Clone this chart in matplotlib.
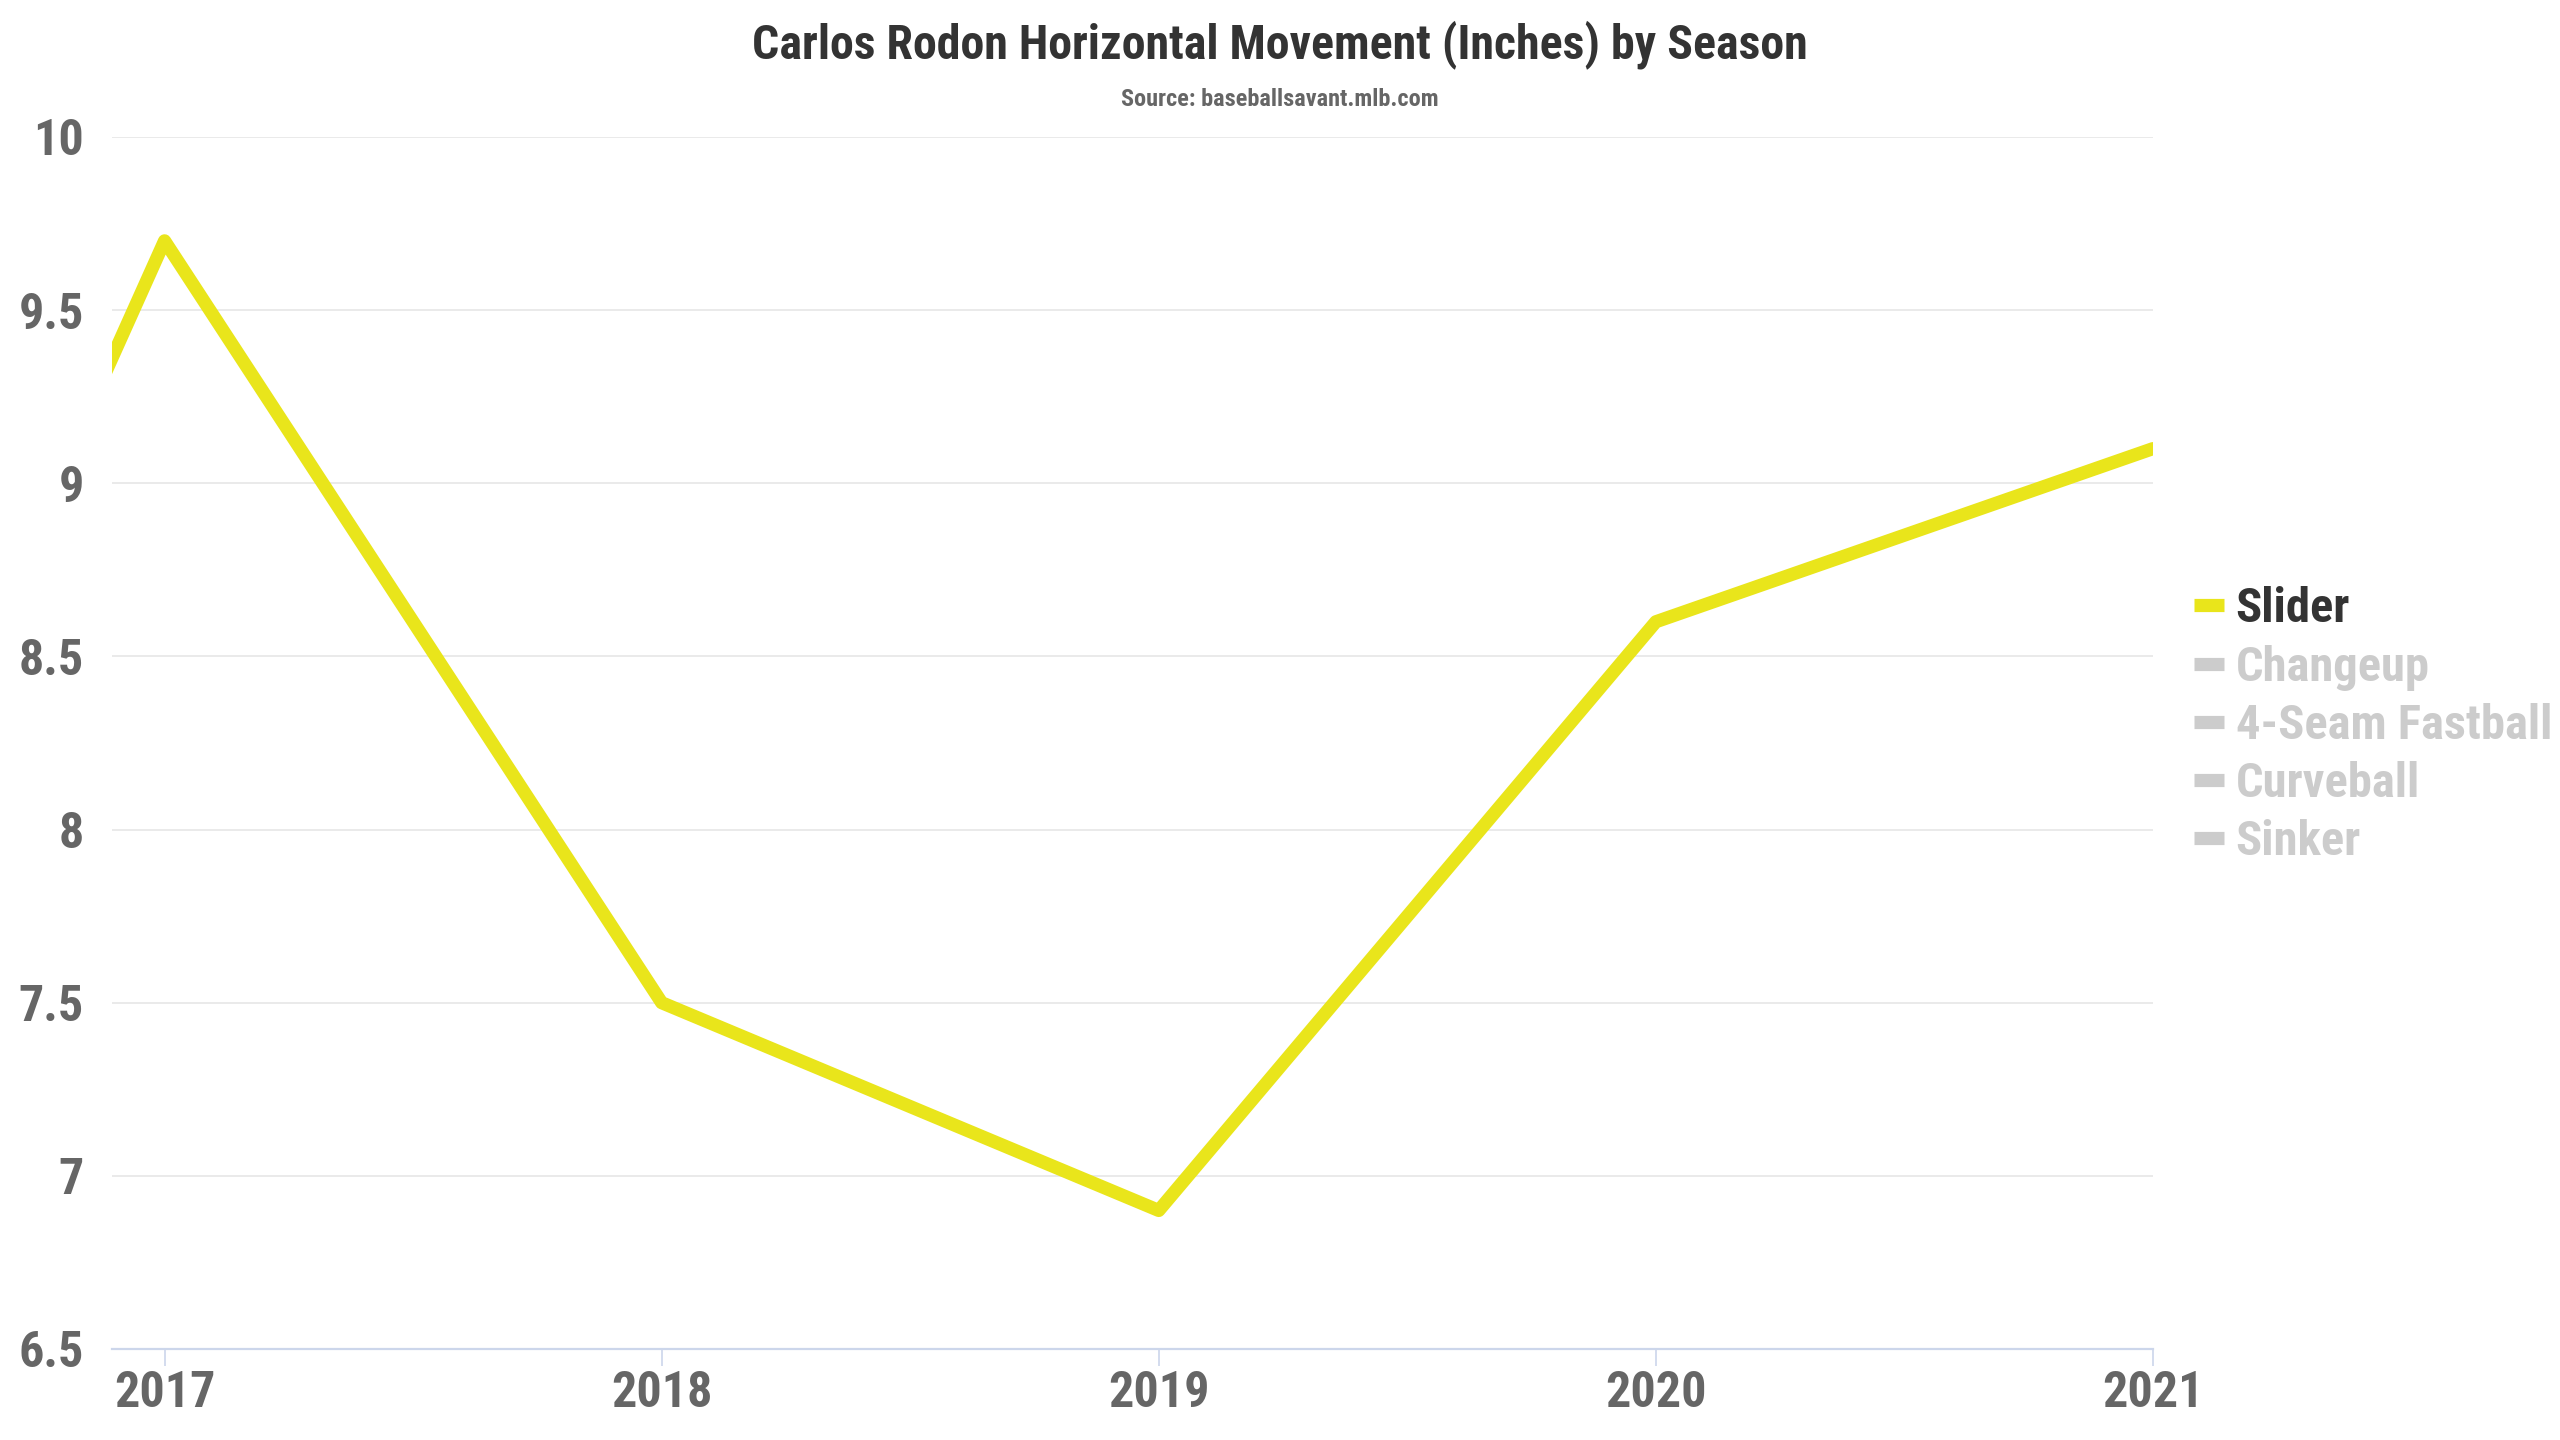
import matplotlib.pyplot as plt
from matplotlib.lines import Line2D

plt.rcParams['font.family'] = ['Roboto Condensed', 'Liberation Sans Narrow', 'Roboto', 'DejaVu Sans']
plt.rcParams['font.weight'] = 'bold'

# data (2016 point sits just outside the visible range)
seasons = [2016, 2017, 2018, 2019, 2020, 2021]
slider = [6.5, 9.7, 7.5, 6.9, 8.6, 9.1]
pitches = ["Slider", "Changeup", "4-Seam Fastball", "Curveball", "Sinker"]
year_ticks = [2017, 2018, 2019, 2020, 2021]
y_ticks = [6.5, 7, 7.5, 8, 8.5, 9, 9.5, 10]

yellow = '#e9e51b'
grey = '#cccccc'

fig = plt.figure(figsize=(25.6, 14.4), dpi=100)
ax = fig.add_axes([0.0437, 0.0632, 0.7973, 0.8417])

ax.plot(seasons, slider, color=yellow, lw=9.5, solid_joinstyle='round',
        solid_capstyle='round', zorder=3)

ax.set_xlim(2016.894, 2021)
ax.set_ylim(6.5, 10)
ax.set_xticks(year_ticks)
ax.set_xticklabels([str(y) for y in year_ticks])
ax.set_yticks(y_ticks)
ax.set_yticklabels(['%g' % v for v in y_ticks])

ax.grid(axis='y', color='#e6e6e6', lw=1.2, zorder=0)
ax.set_axisbelow(True)
for s in ['top', 'right', 'left']:
    ax.spines[s].set_visible(False)
ax.spines['bottom'].set_color('#ccd6eb')
ax.spines['bottom'].set_linewidth(1.6)

ax.tick_params(axis='x', direction='out', length=12, width=1.2, color='#ccd6eb',
               labelsize=36, labelcolor='#666666', pad=3)
ax.tick_params(axis='y', length=0, labelsize=36, labelcolor='#666666', pad=20)

fig.text(0.5, 0.969, 'Carlos Rodon Horizontal Movement (Inches) by Season',
         ha='center', va='center', fontsize=34.5, color='#333333', fontweight='bold')
fig.text(0.5, 0.931, 'Source: baseballsavant.mlb.com', ha='center', va='center',
         fontsize=17.5, color='#666666', fontweight='bold')

handles = [Line2D([0], [0], color=yellow if i == 0 else grey, lw=9.5, solid_capstyle='butt')
           for i in range(len(pitches))]
leg = fig.legend(handles, pitches, loc='center left', bbox_to_anchor=(0.857, 0.496),
                 frameon=False, handlelength=0.62, handletextpad=0.24,
                 labelspacing=0.25, borderpad=0, borderaxespad=0,
                 prop={'weight': 'bold', 'size': 35})
for i, t in enumerate(leg.get_texts()):
    t.set_color('#333333' if i == 0 else grey)

fig.savefig('out.png', dpi=100)
